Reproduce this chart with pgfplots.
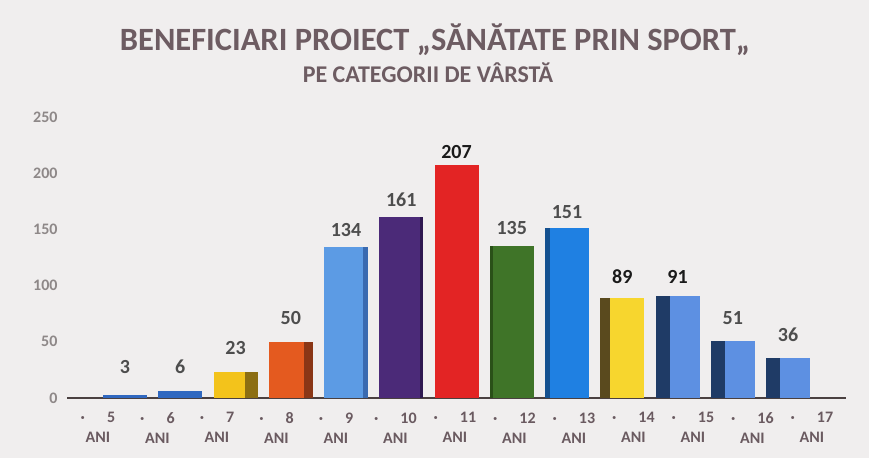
\documentclass[border=0pt]{standalone}
\usepackage{fontspec}
\setmainfont{Carlito}
\usepackage{pgfplots}
\pgfplotsset{compat=1.18}

\definecolor{bg}{HTML}{F0EEEE}
\definecolor{titlec}{HTML}{6D5C62}
\definecolor{xtc}{HTML}{6A5A60}
\definecolor{ytc}{HTML}{8E8888}
\definecolor{axisc}{HTML}{4A4040}
\definecolor{lblgray}{HTML}{4D4D4D}
\definecolor{lblblack}{HTML}{1A1A1A}
% bar front / side colours
\definecolor{blueF}{HTML}{3068C0}   \definecolor{blueS}{HTML}{1F4A8A}
\definecolor{yelF}{HTML}{F3C31B}    \definecolor{yelS}{HTML}{8C6E12}
\definecolor{oraF}{HTML}{E45A1F}    \definecolor{oraS}{HTML}{8A3616}
\definecolor{lbF}{HTML}{5C9BE4}     \definecolor{lbS}{HTML}{3A6AB0}
\definecolor{purF}{HTML}{4B2A78}    \definecolor{purS}{HTML}{2E1850}
\definecolor{redF}{HTML}{E32424}    \definecolor{redS}{HTML}{A01515}
\definecolor{grnF}{HTML}{3F7428}    \definecolor{grnS}{HTML}{2A5018}
\definecolor{azF}{HTML}{1F80E2}     \definecolor{azS}{HTML}{14508F}
\definecolor{yel2F}{HTML}{F7D62E}   \definecolor{yel2S}{HTML}{5A4A1E}
\definecolor{cfF}{HTML}{5D90E2}     \definecolor{cfS}{HTML}{1F3B66}

% x, value, front colour, side colour, front width, front shift, label colour, label lift
\newcommand{\bbar}[8]{%
  \addplot[ybar, bar width=44pt, bar shift=0pt, fill=#4, draw=none,
    nodes near coords,
    nodes near coords style={text=#7, font=\fontsize{20}{20}\selectfont\bfseries, yshift=#8}]
    coordinates {(#1,#2)};
  \addplot[ybar, bar width=#5, bar shift=#6, fill=#3, draw=none]
    coordinates {(#1,#2)};
}

\begin{document}
\begin{tikzpicture}
\fill[bg] (0pt,0pt) rectangle (869pt,458pt);
\node[text=titlec, font=\fontsize{32.5}{36}\selectfont\bfseries] at (435pt,418pt)
  {BENEFICIARI PROIECT „SĂNĂTATE PRIN SPORT„};
\node[text=titlec, font=\fontsize{24}{26}\selectfont\bfseries] at (428pt,385pt)
  {PE CATEGORII DE VÂRSTĂ};
\begin{axis}[
    at={(67pt,60pt)}, anchor=south west,
    scale only axis, width=779pt, height=281pt,
    xmin=-1.05, xmax=13.05, ymin=0, ymax=250,
    /pgf/number format/assume math mode=true,
    axis x line*=bottom, axis y line*=left,
    x axis line style={draw=axisc, line width=2.2pt, -},
    y axis line style={draw=none},
    major tick length=0pt,
    ytick={0,50,...,250},
    yticklabel style={text=ytc, font=\fontsize{16}{16}\selectfont\bfseries, xshift=-6pt},
    xtick={-0.49,0.587,1.664,2.741,3.818,4.895,5.971,7.048,8.125,9.202,10.279,11.356,12.433},
    xticklabels={{·\hspace{22pt}5\\ANI},{·\hspace{22pt}6\\ANI},{·\hspace{22pt}7\\ANI},
      {·\hspace{22pt}8\\ANI},{·\hspace{22pt}9\\ANI},{·\hspace{22pt}10\\ANI},
      {·\hspace{22pt}11\\ANI},{·\hspace{22pt}12\\ANI},{·\hspace{22pt}13\\ANI},
      {·\hspace{22pt}14\\ANI},{·\hspace{22pt}15\\ANI},{·\hspace{22pt}16\\ANI},
      {·\hspace{22pt}17\\ANI}},
    xticklabel style={align=center, text=xtc, font=\fontsize{16}{20}\selectfont\bfseries, yshift=-11pt},
    clip=false,
]
\bbar{0}{3}{blueF}{blueS}{44pt}{0pt}{lblgray}{17pt}
\bbar{1}{6}{blueF}{blueS}{44pt}{0pt}{lblgray}{14pt}
\bbar{2}{23}{yelF}{yelS}{31pt}{-6.5pt}{lblgray}{14pt}
\bbar{3}{50}{oraF}{oraS}{35pt}{-4.5pt}{lblgray}{14pt}
\bbar{4}{134}{lbF}{lbS}{39pt}{-2.5pt}{lblgray}{7pt}
\bbar{5}{161}{purF}{purS}{41pt}{-1.5pt}{lblgray}{7pt}
\bbar{6}{207}{redF}{redS}{44pt}{0pt}{lblblack}{3pt}
\bbar{7}{135}{grnF}{grnS}{41pt}{1.5pt}{lblgray}{8pt}
\bbar{8}{151}{azF}{azS}{39pt}{2.5pt}{lblgray}{6pt}
\bbar{9}{89}{yel2F}{yel2S}{34pt}{5pt}{lblblack}{11pt}
\bbar{10}{91}{cfF}{cfS}{30pt}{7pt}{lblblack}{9pt}
\bbar{11}{51}{cfF}{cfS}{30pt}{7pt}{lblgray}{13pt}
\bbar{12}{36}{cfF}{cfS}{30pt}{7pt}{lblgray}{12pt}
\end{axis}
\end{tikzpicture}
\end{document}
